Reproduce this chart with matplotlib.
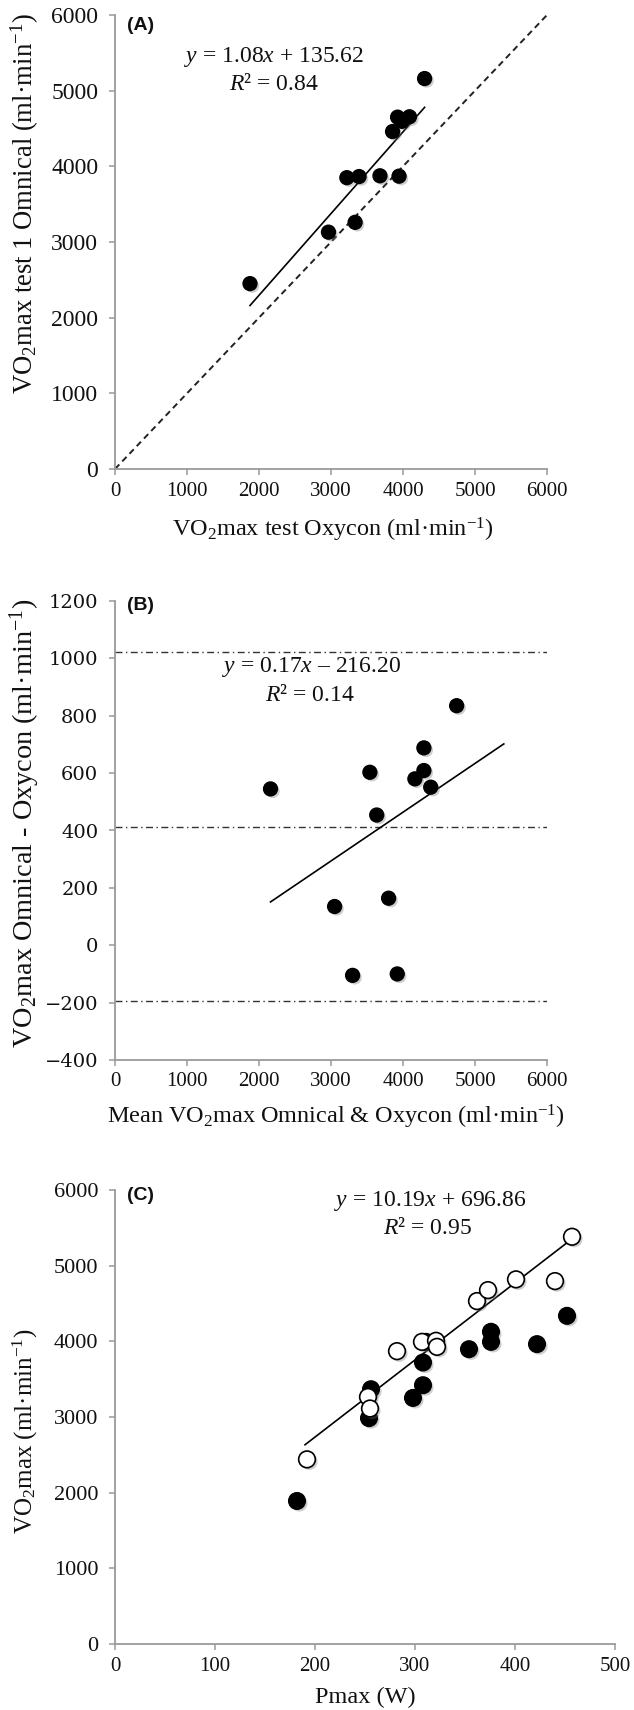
import matplotlib
matplotlib.use("Agg")
import matplotlib.pyplot as plt
from matplotlib import patheffects as pe
import numpy as np

plt.rcParams['font.family'] = ['Liberation Serif', 'DejaVu Serif']
plt.rcParams['mathtext.fontset'] = 'custom'
plt.rcParams['mathtext.rm'] = 'Liberation Serif'
plt.rcParams['mathtext.it'] = 'Liberation Serif:italic'
plt.rcParams['mathtext.bf'] = 'Liberation Serif:bold'

# ---------------- data ----------------
# Panel A
a_oxycon = [1875, 2965, 3220, 3335, 3390, 3680, 3855, 3925, 3945, 3985, 4090, 4300]
a_omnical = [2450, 3130, 3850, 3260, 3865, 3875, 4460, 4650, 3870, 4595, 4655, 5160]
a_slope, a_intercept = 1.08, 135.62
a_identity = [0, 6000]

# Panel B (Bland-Altman)
b_mean = [2160, 3050, 3300, 3540, 3635, 3800, 3920, 4165, 4290, 4290, 4385, 4745]
b_diff = [545, 135, -105, 603, 454, 164, -100, 580, 688, 609, 551, 835]
b_limits = [1022, 413, -196]
b_slope, b_intercept = 0.17, -216.20
b_fit_range = [2160, 5400]

# Panel C
c_pmax_filled = [182, 254, 256, 298, 308, 308, 311, 354, 376, 376, 422, 452]
c_vo2_filled = [1890, 2985, 3367, 3252, 3420, 3720, 3993, 3896, 4126, 3993, 3963, 4337]
c_pmax_open = [192, 253, 255, 282, 307, 321, 322, 362, 373, 401, 440, 457]
c_vo2_open = [2440, 3265, 3112, 3870, 3993, 4007, 3927, 4532, 4677, 4819, 4796, 5382]
c_slope, c_intercept = 10.19, 696.86
c_fit_range = [190, 457]

ticks_6000 = [0, 1000, 2000, 3000, 4000, 5000, 6000]
ticks_b_y = [-400, -200, 0, 200, 400, 600, 800, 1000, 1200]
ticks_c_x = [0, 100, 200, 300, 400, 500]

# ---------------- figure ----------------
W, H = 634, 1710
fig = plt.figure(figsize=(W / 100, H / 100), dpi=100)

def px_axes(l, t, r, b):
    return fig.add_axes([l / W, 1 - b / H, (r - l) / W, (b - t) / H])

def fx(x):
    return x / W

def fy(y):
    return 1 - y / H

axA = px_axes(115, 15, 547, 469)
axB = px_axes(115, 601, 547, 1060)
axC = px_axes(115, 1190, 615, 1644)

spine_col = '#9a9a9a'
txt_col = '#111111'

def style(ax, ysize):
    for s in ['top', 'right']:
        ax.spines[s].set_visible(False)
    for s in ['left', 'bottom']:
        ax.spines[s].set_color(spine_col)
        ax.spines[s].set_linewidth(1.3)
    ax.tick_params(direction='out', length=4.5, width=1.1, color=spine_col,
                   labelcolor=txt_col)
    ax.tick_params(axis='x', labelsize=15, pad=4.5)
    ax.tick_params(axis='y', labelsize=ysize, pad=7.5)

def ylab(x, y, s, size):
    fig.text(fx(x), fy(y), s, rotation=90, rotation_mode='anchor', ha='center', va='center',
             fontsize=size, color=txt_col)

def xlab(x, y, s, size):
    fig.text(fx(x), fy(y), s, ha='center', va='center', fontsize=size, color=txt_col)

def panel_tag(y, s):
    fig.text(fx(127), fy(y), s, family='Liberation Sans', fontweight='bold', fontsize=14,
             ha='left', va='center', color=txt_col)

shadow = [pe.SimplePatchShadow(offset=(1.6, -1.6), shadow_rgbFace=(0.45, 0.45, 0.45), alpha=0.35),
          pe.Normal()]

# ---------------- Panel A ----------------
style(axA, 17)
axA.plot(a_identity, a_identity, linestyle=(0, (3.2, 2.2)), color='#222222', lw=1.4, zorder=1)
xa = np.array([min(a_oxycon), max(a_oxycon)])
axA.plot(xa, a_slope * xa + a_intercept, color='black', lw=1.2, zorder=2)
axA.plot(a_oxycon, a_omnical, 'o', ms=10, color='black', mec='black', zorder=3,
         path_effects=shadow)
axA.set_xlim(0, 6000)
axA.set_ylim(0, 6000)
axA.set_xticks(ticks_6000)
axA.set_yticks(ticks_6000)
xlab(333, 530, 'VO$_2$max test Oxycon (ml·min$^{-1}$)', 17.5)
ylab(25, 204, 'VO$_2$max test 1 Omnical (ml·min$^{-1}$)', 19.2)

panel_tag(25, '(A)')
fig.text(fx(274), fy(57), '$y$ = 1.08$x$ + 135.62', fontsize=17, ha='center', va='center', color=txt_col)
fig.text(fx(274), fy(84), '$R$² = 0.84', fontsize=17, ha='center', va='center', color=txt_col)

# ---------------- Panel B ----------------
style(axB, 14)
for yv in b_limits:
    axB.axhline(yv, color='#333333', lw=1.0, linestyle=(0, (5, 2.5, 1, 2.5)), zorder=1)
xb = np.array(b_fit_range)
axB.plot(xb, b_slope * xb + b_intercept, color='black', lw=1.2, zorder=2)
axB.plot(b_mean, b_diff, 'o', ms=10, color='black', zorder=3, path_effects=shadow)
axB.set_xlim(0, 6000)
axB.set_ylim(-400, 1200)
axB.set_xticks(ticks_6000)
axB.set_yticks(ticks_b_y)
for lab in axB.get_yticklabels():
    lab.set_family('DejaVu Serif')
xlab(336, 1117, 'Mean VO$_2$max Omnical & Oxycon (ml·min$^{-1}$)', 17.5)
ylab(25, 823, 'VO$_2$max Omnical - Oxycon (ml·min$^{-1}$)', 20.3)

panel_tag(606, '(B)')
fig.text(fx(312), fy(667), '$y$ = 0.17$x$ – 216.20', fontsize=17, ha='center', va='center', color=txt_col)
fig.text(fx(310), fy(695), '$R$² = 0.14', fontsize=17, ha='center', va='center', color=txt_col)

# ---------------- Panel C ----------------
style(axC, 16)
xc = np.array(c_fit_range)
axC.plot(xc, c_slope * xc + c_intercept, color='black', lw=1.2, zorder=2)
axC.plot(c_pmax_filled, c_vo2_filled, 'o', ms=12, color='black', zorder=3,
         path_effects=shadow)
axC.plot(c_pmax_open, c_vo2_open, 'o', ms=12, mfc='white', mec='black', mew=1.2, zorder=3,
         path_effects=shadow)
axC.set_xlim(0, 500)
axC.set_ylim(0, 6000)
axC.set_xticks(ticks_c_x)
axC.set_yticks(ticks_6000)
xlab(365, 1697, 'Pmax (W)', 17.5)
ylab(25, 1431, 'VO$_2$max (ml·min$^{-1}$)', 18)

panel_tag(1195, '(C)')
fig.text(fx(430), fy(1201), '$y$ = 10.19$x$ + 696.86', fontsize=17, ha='center', va='center', color=txt_col)
fig.text(fx(428), fy(1228), '$R$² = 0.95', fontsize=17, ha='center', va='center', color=txt_col)

fig.savefig('out.png', dpi=100, facecolor='white')
